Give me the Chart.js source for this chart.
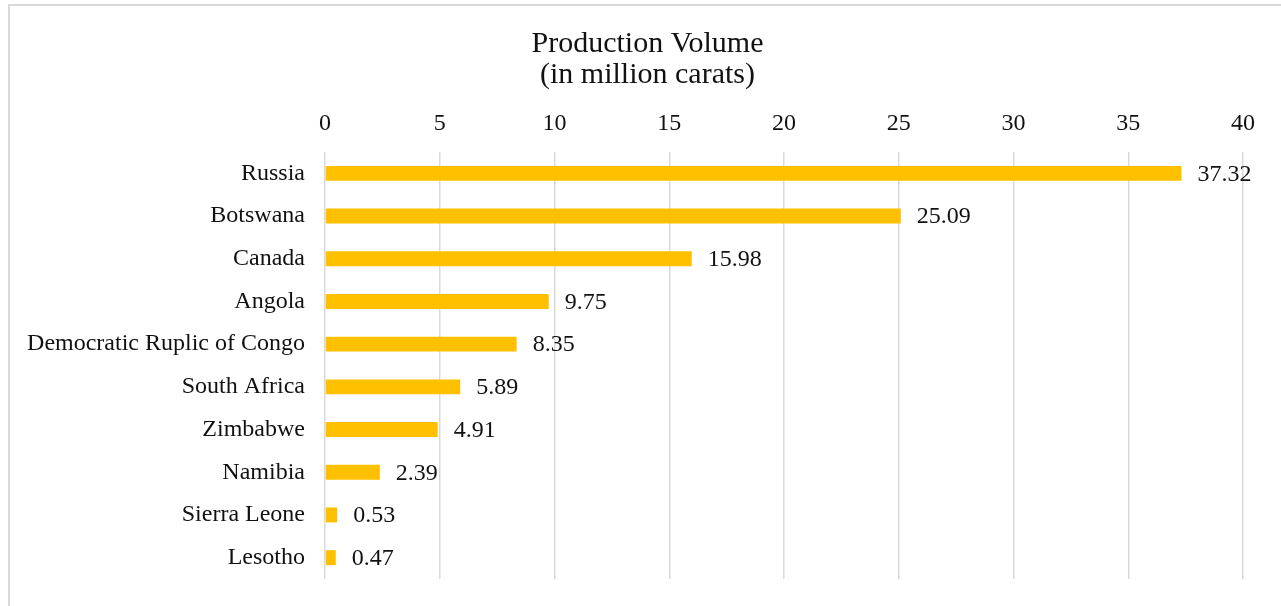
<!DOCTYPE html>
<html>
<head>
<meta charset="utf-8">
<script src="https://cdn.jsdelivr.net/npm/chart.js@4/dist/chart.umd.min.js"></script>
<style>
  html, body { margin: 0; padding: 0; background: #fff; }
  #wrap { position: relative; width: 1281px; height: 606px; overflow: hidden; }
  #frame { position: absolute; left: 8px; top: 4px; width: 1400px; height: 700px; border: 2px solid #d9d9d9; box-sizing: border-box; }
  canvas { position: absolute; left: 0; top: 0; }
</style>
</head>
<body>
<div id="wrap">
  <div id="frame"></div>
  <canvas id="c" width="1281" height="606"></canvas>
</div>
<script>
const countries = ["Russia", "Botswana", "Canada", "Angola", "Democratic Ruplic of Congo", "South Africa", "Zimbabwe", "Namibia", "Sierra Leone", "Lesotho"];
const production = [37.32, 25.09, 15.98, 9.75, 8.35, 5.89, 4.91, 2.39, 0.53, 0.47];
const titleLines = ["Production Volume", "(in million carats)"];
const xMin = 0, xMax = 40, xStep = 5;

const FONT = "'Liberation Serif', 'Times New Roman', serif";

const valueLabels = {
  id: 'valueLabels',
  afterDatasetsDraw(chart) {
    const ctx = chart.ctx;
    const meta = chart.getDatasetMeta(0);
    ctx.save();
    ctx.font = "24px " + FONT;
    ctx.fillStyle = "#111";
    ctx.textAlign = "left";
    ctx.textBaseline = "middle";
    meta.data.forEach((bar, i) => {
      ctx.fillText(production[i].toFixed(2), bar.x + 16, bar.y + 1);
    });
    ctx.restore();
  }
};

// Title centred on the (wider) chart frame, as in the reference
const frameTitle = {
  id: 'frameTitle',
  afterDraw(chart) {
    const ctx = chart.ctx;
    ctx.save();
    ctx.font = "30px " + FONT;
    ctx.fillStyle = "#111";
    ctx.textAlign = "center";
    ctx.textBaseline = "alphabetic";
    titleLines.forEach((t, i) => ctx.fillText(t, 647.5, 52 + i * 31));
    ctx.restore();
  }
};

new Chart(document.getElementById('c'), {
  type: 'bar',
  data: {
    labels: countries,
    datasets: [{
      data: production,
      backgroundColor: '#FFC000',
      borderWidth: 0,
      barPercentage: 0.7,
      categoryPercentage: 0.5
    }]
  },
  options: {
    indexAxis: 'y',
    responsive: false,
    animation: false,
    layout: { padding: { left: 0, right: 38, top: 99, bottom: 27 } },
    plugins: {
      legend: { display: false },
      tooltip: { enabled: false },
      title: { display: false }
    },
    scales: {
      x: {
        position: 'top',
        min: xMin, max: xMax,
        ticks: { stepSize: xStep, color: '#111', font: { family: FONT, size: 24 }, padding: 14 },
        grid: { color: '#d9d9d9', lineWidth: 1.5, drawTicks: false },
        border: { display: false },
        afterFit(s) { s.height = 53; }
      },
      y: {
        ticks: { color: '#111', font: { family: FONT, size: 24 }, padding: 20 },
        grid: { display: false, drawTicks: false },
        border: { display: false },
        afterFit(s) { s.width = 325; s.paddingTop = 0; s.paddingBottom = 0; }
      }
    }
  },
  plugins: [valueLabels, frameTitle]
});
</script>
</body>
</html>
